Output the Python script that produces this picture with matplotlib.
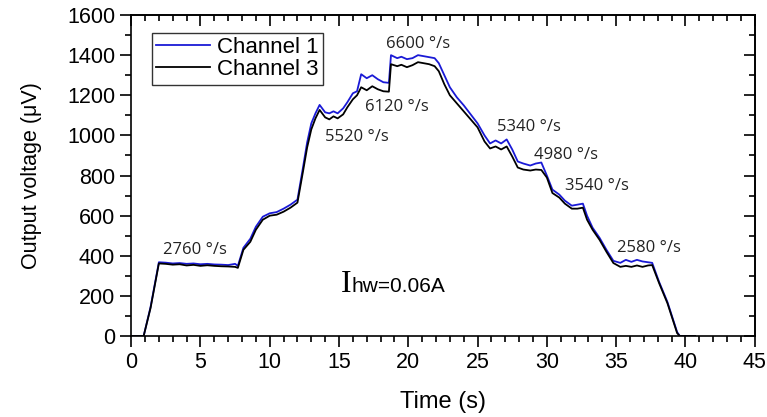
import numpy as np
import matplotlib.pyplot as plt
from matplotlib.ticker import MultipleLocator

# time (s)
t = [0.0, 0.9, 1.4, 2.0, 2.5, 3.0, 3.5, 4.0, 4.5, 5.0, 5.5, 6.0, 6.5, 7.0, 7.5, 7.7,
     8.1, 8.6, 9.0, 9.5, 10.0, 10.5, 11.0, 11.5, 12.0, 12.4, 12.7, 13.0, 13.3, 13.6,
     14.0, 14.3, 14.6, 14.9, 15.3, 15.6, 16.0, 16.3, 16.6, 17.0, 17.4, 17.8, 18.2, 18.6,
     18.75, 19.2, 19.5, 19.9, 20.3, 20.7, 21.1, 21.5, 21.9, 22.2, 22.6, 23.0, 23.5, 24.0,
     24.5, 25.0, 25.5, 25.9, 26.3, 26.7, 27.1, 27.5, 27.9, 28.3, 28.8, 29.2, 29.6, 30.0,
     30.4, 30.9, 31.3, 31.8, 32.2, 32.6, 32.9, 33.3, 33.8, 34.3, 34.8, 35.3, 35.7, 36.1,
     36.5, 36.9, 37.3, 37.6, 38.1, 38.7, 39.4, 39.6, 40.7]

# channel 3 (black), uV
ch3 = [0, 0, 140, 362, 360, 356, 358, 352, 355, 350, 353, 350, 348, 347, 345, 340,
       430, 470, 530, 580, 600, 605, 620, 640, 665, 820, 940, 1030, 1085, 1127,
       1090, 1080, 1095, 1085, 1105, 1140, 1180, 1200, 1240, 1225, 1245, 1230, 1220, 1218,
       1355, 1345, 1352, 1340, 1350, 1365, 1360, 1355, 1345, 1320, 1255, 1200, 1160, 1120,
       1080, 1040, 970, 935, 945, 930, 945, 895, 840, 830, 825, 830, 828, 790,
       713, 690, 660, 635, 635, 640, 580, 530, 480, 420, 364, 345, 350, 345,
       352, 345, 352, 354, 264, 164, 15, 0, 0]

# channel 1 (blue), uV
ch1 = [0, 0, 145, 368, 366, 362, 364, 360, 362, 358, 360, 357, 356, 354, 360, 350,
       440, 485, 545, 595, 612, 618, 635, 655, 680, 840, 965, 1060, 1110, 1152,
       1115, 1110, 1120, 1110, 1135, 1165, 1210, 1220, 1305, 1285, 1300, 1280, 1265, 1262,
       1400, 1385, 1392, 1380, 1385, 1400, 1395, 1390, 1385, 1360, 1300, 1240, 1190, 1150,
       1105, 1060, 1000, 960, 975, 960, 980, 930, 870, 860, 850, 860, 865, 800,
       730, 705, 675, 650, 655, 660, 600, 540, 490, 430, 375, 365, 380, 370,
       380, 372, 368, 365, 270, 170, 20, 0, 0]

labels = ["2760 °/s", "5520 °/s", "6120 °/s", "6600 °/s",
          "5340 °/s", "4980 °/s", "3540 °/s", "2580 °/s"]
label_t = [4.6, 16.3, 19.2, 20.7, 28.7, 31.4, 33.6, 37.4]
label_v = [429, 992, 1142, 1456, 1042, 902, 748, 439]

plt.rcParams['font.family'] = ['Liberation Sans', 'DejaVu Sans']

fig = plt.figure(figsize=(7.67, 4.17), dpi=100)
ax = fig.add_axes([0.171, 0.194, 0.813, 0.770])

ax.plot(t, ch1, color='#1a1ad6', lw=1.3, label='Channel 1')
ax.plot(t, ch3, color='black', lw=1.3, label='Channel 3')

for s, x, y in zip(labels, label_t, label_v):
    ax.text(x, y, s, ha='center', va='center', fontsize=12, color='#222222',
            family=['Open Sans', 'DejaVu Sans'])

ax.text(15.15, 222, 'I', fontsize=23, family='Liberation Serif', ha='left', va='baseline')
ax.text(15.9, 222, 'hw=0.06A', fontsize=15, ha='left', va='baseline')

ax.set_xlim(0, 45)
ax.set_ylim(0, 1600)
ax.xaxis.set_major_locator(MultipleLocator(5))
ax.xaxis.set_minor_locator(MultipleLocator(1))
ax.yaxis.set_major_locator(MultipleLocator(200))
ax.yaxis.set_minor_locator(MultipleLocator(100))
ax.tick_params(which='both', direction='out', labelsize=15.5, width=1.2)
ax.tick_params(which='major', length=8)
ax.tick_params(which='minor', length=4)
for sp in ax.spines.values():
    sp.set_linewidth(1.2)

# inward ticks on the top and right edges
top = ax.secondary_xaxis('top')
right = ax.secondary_yaxis('right')
for sec in (top, right):
    sec.tick_params(which='both', direction='in', width=1.2, labeltop=False, labelright=False)
    sec.tick_params(which='major', length=8)
    sec.tick_params(which='minor', length=4)
top.xaxis.set_major_locator(MultipleLocator(5))
top.xaxis.set_minor_locator(MultipleLocator(1))
right.yaxis.set_major_locator(MultipleLocator(200))
right.yaxis.set_minor_locator(MultipleLocator(100))
top.spines['top'].set_linewidth(1.2)
right.spines['right'].set_linewidth(1.2)

ax.set_xlabel('Time (s)', fontsize=17, labelpad=13)
ax.set_ylabel('Output voltage (\u03bcV)', fontsize=15.5, labelpad=18)

leg = ax.legend(loc='upper left', bbox_to_anchor=(0.033, 0.945), fontsize=16,
                fancybox=False, edgecolor='black', handlelength=2.4,
                borderpad=0.2, labelspacing=0.05, handletextpad=0.35,
                borderaxespad=0)
leg.get_frame().set_linewidth(1.0)

fig.savefig('out.png', dpi=100)
